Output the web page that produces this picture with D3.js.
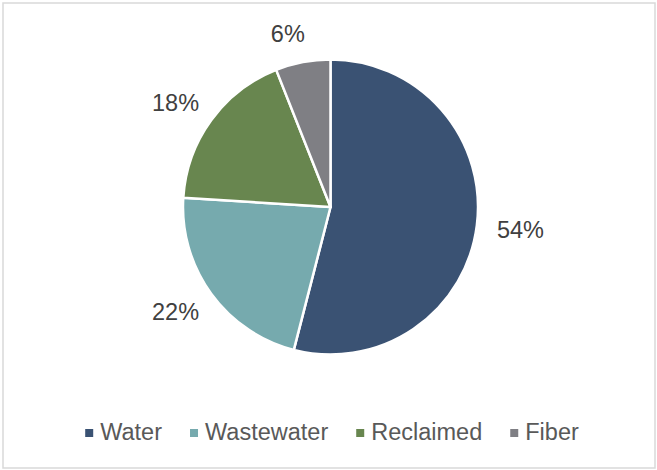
<!DOCTYPE html>
<html>
<head>
<meta charset="utf-8">
<script src="https://cdn.jsdelivr.net/npm/d3@7"></script>
<style>
  body { margin: 0; background: #fff; }
  svg { display: block; font-family: "Liberation Sans", Arial, sans-serif; }
</style>
</head>
<body>
<svg width="657" height="470"></svg>
<script>
var categories = ['Water', 'Wastewater', 'Reclaimed', 'Fiber'];
var shares = [54, 22, 18, 6];
var sliceColors = ['#3a5273', '#76aaae', '#68864f', '#7f7f84'];

var svg = d3.select('svg');

// outer frame
svg.append('rect')
  .attr('x', 3)
  .attr('y', 3)
  .attr('width', 652)
  .attr('height', 465)
  .attr('fill', 'none')
  .attr('stroke', '#d9d9d9')
  .attr('stroke-width', 1.5);

var cx = 330.5, cy = 207, radius = 147.5;

var color = d3.scaleOrdinal().domain(categories).range(sliceColors);

var pie = d3.pie().sort(null).value(function (d) { return d.value; });
var data = categories.map(function (c, i) { return { name: c, value: shares[i] }; });
var arcs = pie(data);

var arc = d3.arc().innerRadius(0).outerRadius(radius);

var g = svg.append('g').attr('transform', 'translate(' + cx + ',' + cy + ')');

g.selectAll('path.slice')
  .data(arcs)
  .enter().append('path')
  .attr('class', 'slice')
  .attr('d', arc)
  .attr('fill', function (d) { return color(d.data.name); })
  .attr('stroke', '#fff')
  .attr('stroke-width', 2.5)
  .attr('stroke-linejoin', 'round');

// labels outside the pie, pushed out by half their box
var labelR = 168;
g.selectAll('text.lbl')
  .data(arcs)
  .enter().append('text')
  .attr('class', 'lbl')
  .attr('font-size', 23.5)
  .attr('fill', '#404040')
  .attr('text-anchor', 'middle')
  .text(function (d) { return d.data.value + '%'; })
  .each(function (d) {
    var a = (d.startAngle + d.endAngle) / 2;
    var dx = Math.sin(a), dy = -Math.cos(a);
    var w = this.getComputedTextLength();
    var h = 18;
    // labels near the top get a small hand nudge left, to sit like the reference
    var x = dx * labelR + dx * w / 2 - (Math.abs(dx) < 0.3 ? 8 : 0);
    var y = dy * labelR + dy * h / 2 + 8.5;
    d3.select(this).attr('x', x).attr('y', y);
  });

// legend
var legend = svg.append('g');
var items = legend.selectAll('g')
  .data(categories)
  .enter().append('g');

items.append('rect')
  .attr('width', 8)
  .attr('height', 8)
  .attr('y', -11)
  .attr('fill', function (d) { return color(d); });

items.append('text')
  .attr('x', 15)
  .attr('font-size', 23.5)
  .attr('fill', '#595959')
  .text(function (d) { return d; });

var xpos = 0;
items.each(function () {
  var t = d3.select(this).select('text').node();
  d3.select(this).attr('transform', 'translate(' + xpos + ',0)');
  xpos += 15 + t.getComputedTextLength() + 28;
});
var total = xpos - 28;
legend.attr('transform', 'translate(' + (332 - total / 2) + ',440)');
</script>
</body>
</html>
